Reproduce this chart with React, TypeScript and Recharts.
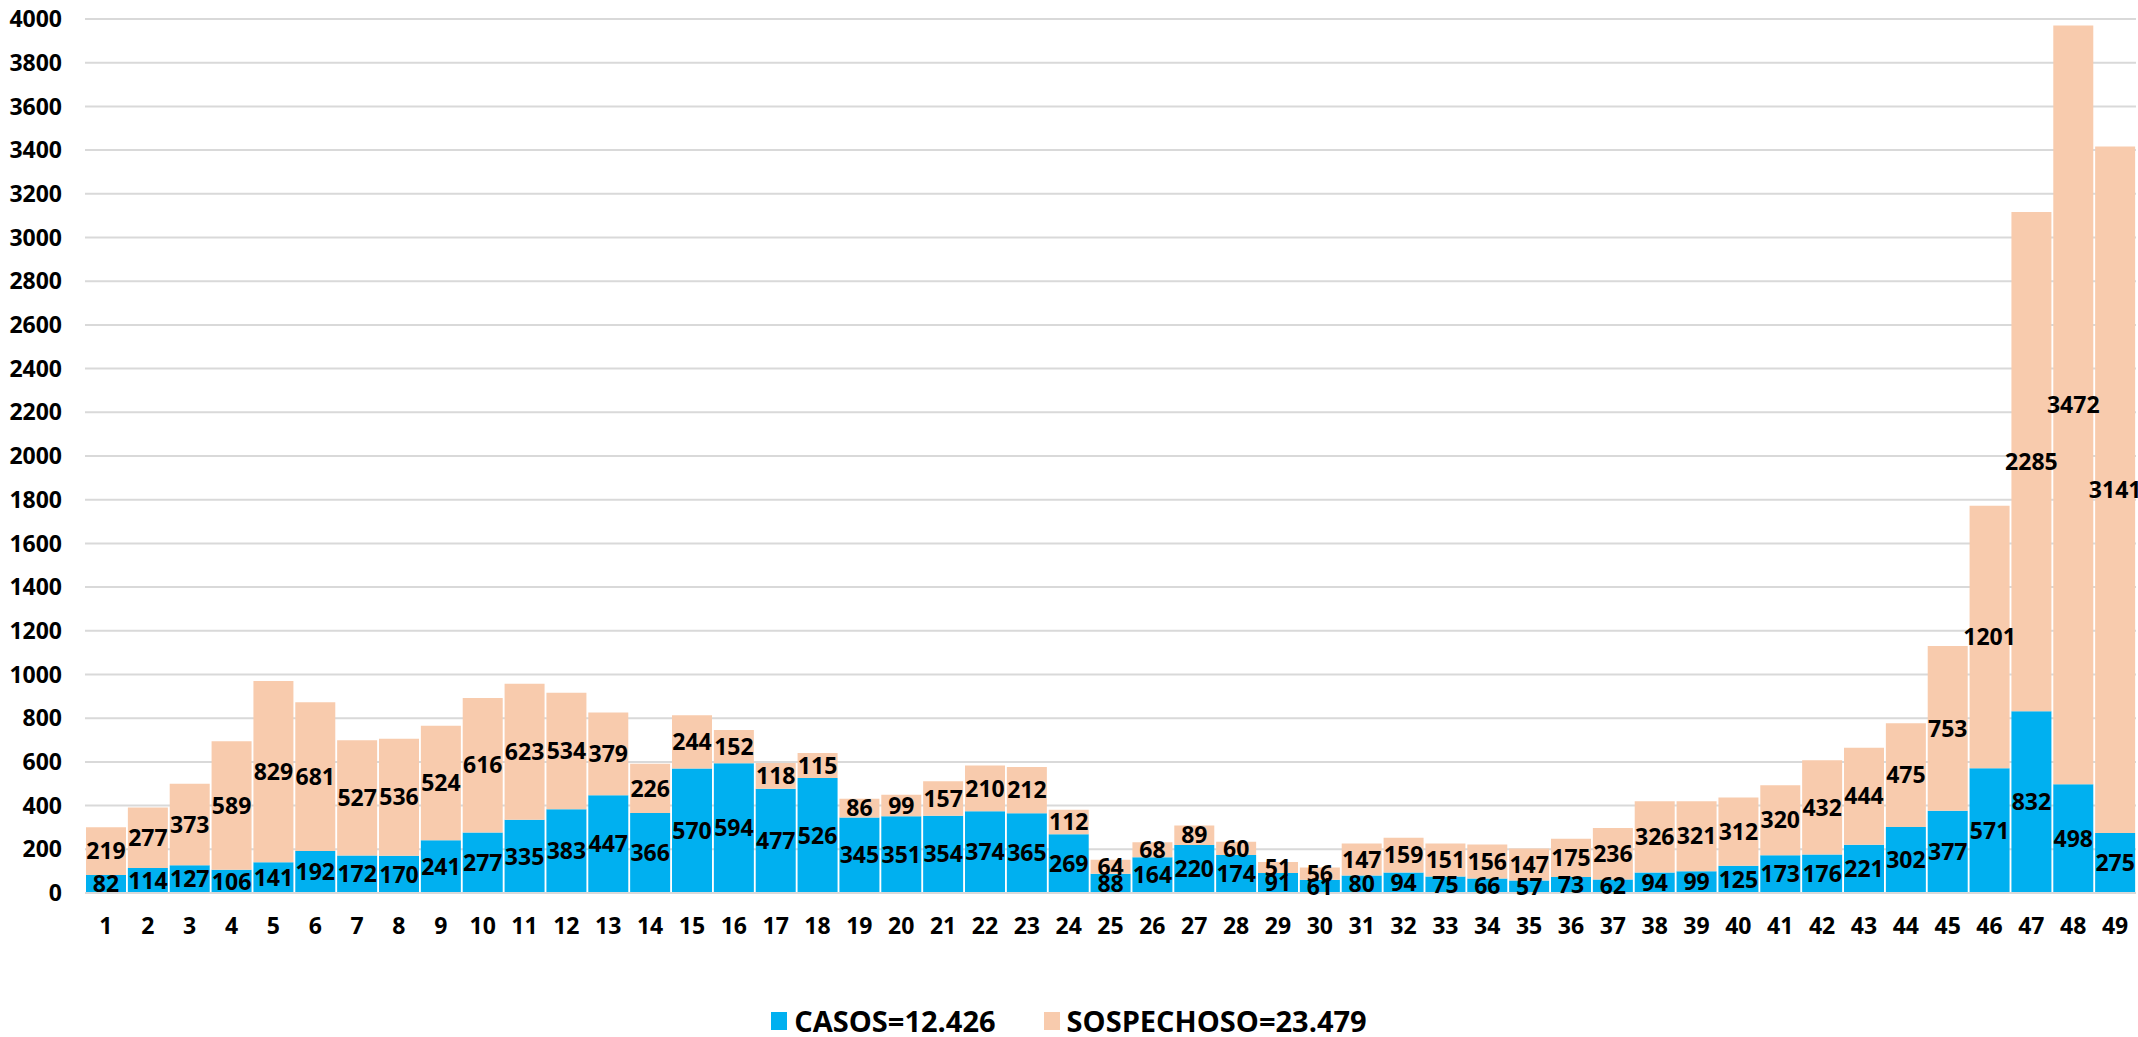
import React from 'react';
import { BarChart, Bar, XAxis, YAxis, CartesianGrid, LabelList } from 'recharts';

const semanas = Array.from({ length: 49 }, (_, i) => String(i + 1));

const casos = [
  82, 114, 127, 106, 141, 192, 172, 170, 241, 277,
  335, 383, 447, 366, 570, 594, 477, 526, 345, 351,
  354, 374, 365, 269, 88, 164, 220, 174, 91, 61,
  80, 94, 75, 66, 57, 73, 62, 94, 99, 125,
  173, 176, 221, 302, 377, 571, 832, 498, 275,
];

const sospechosos = [
  219, 277, 373, 589, 829, 681, 527, 536, 524, 616,
  623, 534, 379, 226, 244, 152, 118, 115, 86, 99,
  157, 210, 212, 112, 64, 68, 89, 60, 51, 56,
  147, 159, 151, 156, 147, 175, 236, 326, 321, 312,
  320, 432, 444, 475, 753, 1201, 2285, 3472, 3141,
];

const yTicks = [
  0, 200, 400, 600, 800, 1000, 1200, 1400, 1600, 1800, 2000,
  2200, 2400, 2600, 2800, 3000, 3200, 3400, 3600, 3800, 4000,
];

const legendItems = [
  { label: 'CASOS=12.426', color: '#00B0F0' },
  { label: 'SOSPECHOSO=23.479', color: '#F8CBAD' },
];

const data = semanas.map((s, i) => ({ semana: s, casos: casos[i], sospechoso: sospechosos[i] }));

const FONT = '"Open Sans", "Noto Sans", sans-serif';
const tickStyle = { fill: '#000', fontSize: 23, fontWeight: 700, fontFamily: FONT };
const labelStyle = { fill: '#000', fontSize: 23, fontWeight: 700, fontFamily: FONT };

export default function App() {
  return (
    <div style={{ position: 'absolute', top: 0, left: 0, width: 2138, height: 1037, background: '#fff', fontFamily: FONT }}>
      <BarChart
        width={2138}
        height={1037}
        data={data}
        margin={{ top: 19, right: 2, left: 0, bottom: 84 }}
        barCategoryGap={1}
      >
        <CartesianGrid vertical={false} stroke="#D9D9D9" strokeWidth={2} />
        <XAxis
          dataKey="semana"
          height={60}
          axisLine={{ stroke: '#D9D9D9', strokeWidth: 2 }}
          tickLine={false}
          tickSize={0}
          tickMargin={25}
          interval={0}
          tick={tickStyle}
        />
        <YAxis
          width={85}
          domain={[0, 4000]}
          ticks={yTicks}
          axisLine={false}
          tickLine={false}
          tickSize={0}
          tickMargin={23}
          interval={0}
          tick={tickStyle}
        />
        <Bar dataKey="casos" stackId="a" fill="#00B0F0" isAnimationActive={false}>
          <LabelList dataKey="casos" position="center" style={labelStyle} />
        </Bar>
        <Bar dataKey="sospechoso" stackId="a" fill="#F8CBAD" isAnimationActive={false}>
          <LabelList dataKey="sospechoso" position="center" style={labelStyle} />
        </Bar>
      </BarChart>
      <div
        style={{
          position: 'absolute',
          top: 1006,
          left: 0,
          width: 2138,
          display: 'flex',
          justifyContent: 'center',
          alignItems: 'center',
          gap: 48,
        }}
      >
        {legendItems.map((it) => (
          <div key={it.label} style={{ display: 'flex', alignItems: 'center', gap: 7 }}>
            <span style={{ width: 16, height: 18, background: it.color, display: 'inline-block' }} />
            <span style={{ fontSize: 29, fontWeight: 700, color: '#000', lineHeight: 1 }}>{it.label}</span>
          </div>
        ))}
      </div>
    </div>
  );
}
